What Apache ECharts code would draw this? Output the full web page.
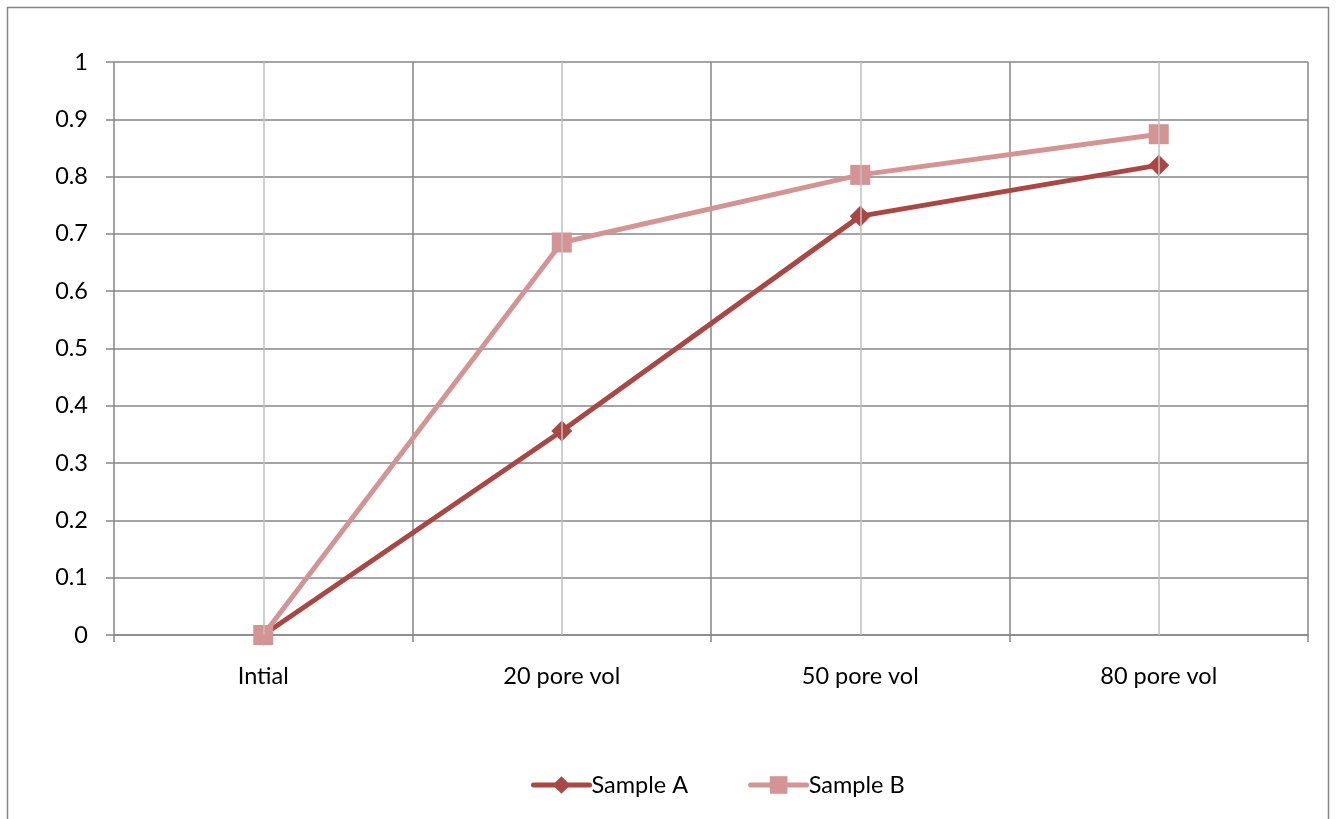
<!DOCTYPE html>
<html>
<head>
<meta charset="utf-8">
<script src="https://cdn.jsdelivr.net/npm/echarts@6/dist/echarts.min.js"></script>
<style>html,body{margin:0;padding:0;background:#fff}#c{width:1336px;height:819px}</style>
</head>
<body>
<div id="c"></div>
<script>
const categories = ['Intial', '20 pore vol', '50 pore vol', '80 pore vol'];
const sampleA = [0, 0.356, 0.731, 0.820];
const sampleB = [0, 0.685, 0.803, 0.874];
const yTicks = [0, 0.1, 0.2, 0.3, 0.4, 0.5, 0.6, 0.7, 0.8, 0.9, 1];

const FONT = 'Lato';
const FS = 23.5;
const chart = echarts.init(document.getElementById('c'), null, {renderer: 'canvas'});
chart.setOption({
  animation: false,
  textStyle: {fontFamily: FONT},
  graphic: [{
    type: 'rect', z: -10,
    shape: {x: 7.5, y: 7.5, width: 1321, height: 830},
    style: {fill: '#fff', stroke: '#868686', lineWidth: 1.5}
  }],
  grid: {left: 114, right: 28, top: 62, bottom: 184, containLabel: false},
  legend: {
    bottom: 17, left: 526, itemGap: 60, itemWidth: 56, itemHeight: 22,
    lineStyle: {width: 5, cap: 'round'},
    textStyle: {fontFamily: FONT, fontSize: FS, color: '#000', padding: [0, 0, 0, -3]},
    data: ['Sample A', 'Sample B']
  },
  xAxis: {
    type: 'category', data: categories, boundaryGap: true,
    axisLine: {lineStyle: {color: '#868686', width: 1.5}},
    axisTick: {show: true, length: 7, lineStyle: {color: '#868686', width: 1.5}},
    axisLabel: {fontFamily: FONT, fontSize: FS, color: '#000', margin: 29},
    splitLine: {show: true, lineStyle: {color: '#868686', width: 1.5}}
  },
  yAxis: {
    type: 'value', min: 0, max: yTicks[yTicks.length - 1], interval: 0.1,
    axisLine: {show: false},
    axisTick: {show: true, length: 8, lineStyle: {color: '#868686', width: 1.5}},
    axisLabel: {fontFamily: FONT, fontSize: FS, color: '#000', margin: 26,
      formatter: v => String(Math.round(v * 10) / 10)},
    splitLine: {show: true, lineStyle: {color: '#868686', width: 1.5}}
  },
  series: [
    {
      name: 'centerlines', type: 'line', data: [], z: 0, silent: true,
      markLine: {
        silent: true, symbol: ['none', 'none'], label: {show: false},
        lineStyle: {color: '#c0c0c0', width: 1.5, type: 'solid'},
        data: categories.map(c => ({xAxis: c}))
      }
    },
    {
      name: 'Sample A', type: 'line', data: sampleA, z: 3,
      symbol: 'diamond', symbolSize: 21,
      lineStyle: {color: '#AA4643', width: 5},
      itemStyle: {color: '#AA4643'}
    },
    {
      name: 'Sample B', type: 'line', data: sampleB, z: 4,
      symbol: 'rect', symbolSize: 20,
      lineStyle: {color: '#D49494', width: 5},
      itemStyle: {color: '#D49494'}
    }
  ]
});
</script>
</body>
</html>
